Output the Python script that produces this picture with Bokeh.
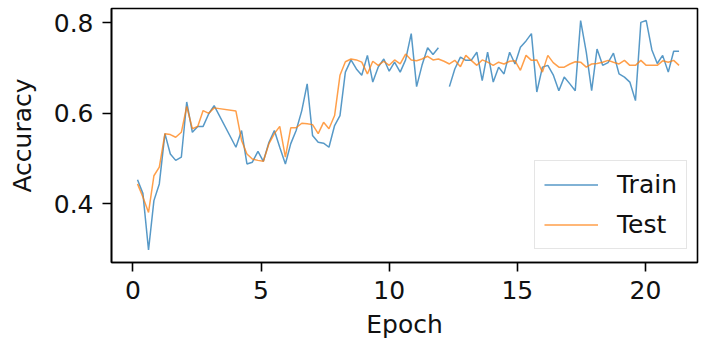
import numpy as np
from bokeh.plotting import figure
from bokeh.models import FixedTicker, Range1d, Legend, LegendItem, ColumnDataSource
from bokeh.embed import file_html
from bokeh.resources import INLINE

epoch = [0.18, 0.39, 0.61, 0.82, 1.03, 1.25, 1.46, 1.67, 1.89, 2.10, 2.32, 2.53, 2.74, 2.96, 3.17,
         4.02, 4.24, 4.45, 4.66, 4.88, 5.09, 5.31, 5.52, 5.73, 5.95,
         6.16, 6.37, 6.59, 6.80, 7.01, 7.23, 7.44, 7.65, 7.87, 8.08,
         8.29, 8.51, 8.72, 8.93, 9.15, 9.36, 9.57, 9.79, 10.00, 10.21,
         10.43, 10.64, 10.86, 11.07, 11.28, 11.50, 11.71, 11.92, 12.14, 12.35,
         12.56, 12.78, 12.99, 13.20, 13.42, 13.63, 13.84, 14.06, 14.27, 14.48,
         14.70, 14.91, 15.12, 15.34, 15.55, 15.76, 15.98, 16.19, 16.40, 16.62,
         16.83, 17.05, 17.26, 17.47, 17.69, 17.90, 18.11, 18.33, 18.54, 18.75,
         18.97, 19.18, 19.39, 19.61, 19.82, 20.03, 20.25, 20.46, 20.67, 20.89,
         21.10, 21.31]

train_acc = [0.453, 0.423, 0.298, 0.407, 0.444, 0.555, 0.510, 0.496, 0.503, 0.625, 0.558, 0.571, 0.571, 0.599, 0.617,
             0.525, 0.562, 0.488, 0.492, 0.516, 0.494, 0.536, 0.562, 0.525, 0.488,
             0.533, 0.562, 0.606, 0.665, 0.551, 0.536, 0.534, 0.525, 0.573, 0.595,
             0.691, 0.718, 0.698, 0.684, 0.728, 0.669, 0.702, 0.720, 0.693, 0.713,
             0.691, 0.718, 0.776, 0.659, 0.706, 0.745, 0.730, 0.745, np.nan, 0.659,
             0.698, 0.724, 0.717, 0.717, 0.735, 0.672, 0.735, 0.669, 0.702, 0.687,
             0.735, 0.709, 0.746, 0.760, 0.776, 0.647, 0.702, 0.706, 0.685, 0.650,
             0.680, 0.665, 0.650, 0.805, 0.735, 0.650, 0.742, 0.706, 0.712, 0.733,
             0.687, 0.680, 0.669, 0.628, 0.801, 0.805, 0.740, 0.710, 0.728, 0.691,
             0.737, 0.737]

test_acc = [0.444, 0.415, 0.381, 0.462, 0.481, 0.555, 0.553, 0.547, 0.558, 0.615, 0.566, 0.571, 0.606, 0.600, 0.612,
            0.605, 0.540, 0.510, 0.499, 0.496, 0.494, 0.533, 0.555, 0.571, 0.503,
            0.568, 0.568, 0.578, 0.577, 0.575, 0.555, 0.580, 0.566, 0.595, 0.684,
            0.714, 0.720, 0.718, 0.713, 0.687, 0.715, 0.706, 0.715, 0.706, 0.718,
            0.709, 0.731, 0.718, 0.716, 0.720, 0.726, 0.718, 0.720, 0.715, 0.709,
            0.717, 0.703, 0.728, 0.717, 0.706, 0.718, 0.713, 0.706, 0.713, 0.709,
            0.715, 0.716, 0.695, 0.728, 0.717, 0.718, 0.691, 0.728, 0.712, 0.702,
            0.702, 0.709, 0.714, 0.713, 0.702, 0.709, 0.710, 0.713, 0.717, 0.713,
            0.709, 0.717, 0.706, 0.706, 0.717, 0.706, 0.706, 0.706, 0.716, 0.713,
            0.717, 0.706]

x_ticks = [0, 5, 10, 15, 20]
y_ticks = [0.4, 0.6, 0.8]

FONT = "DejaVu Sans"
FS = "25px"

p = figure(width=700, height=343, output_backend="svg", toolbar_location=None,
           x_range=Range1d(-0.835, 22.03), y_range=Range1d(0.2703, 0.8316),
           min_border_left=111, min_border_right=3, min_border_top=8, min_border_bottom=81)

p.xgrid.visible = False
p.ygrid.visible = False
p.outline_line_color = "black"
p.outline_line_width = 1.6
p.outline_line_alpha = 1.0

src = ColumnDataSource(dict(x=np.array(epoch, dtype=float),
                            tr=np.array(train_acc, dtype=float),
                            te=np.array(test_acc, dtype=float)))

r_train = p.line("x", "tr", source=src, line_color="#1f77b4", line_width=1.5, line_alpha=0.75)
r_test = p.line("x", "te", source=src, line_color="#ff7f0e", line_width=1.5, line_alpha=0.75)

p.xaxis.ticker = FixedTicker(ticks=x_ticks)
p.yaxis.ticker = FixedTicker(ticks=y_ticks)
p.xaxis.axis_label = "Epoch"
p.yaxis.axis_label = "Accuracy"

for ax in (p.xaxis[0], p.yaxis[0]):
    ax.axis_line_color = "black"
    ax.axis_line_width = 1.6
    ax.major_tick_line_color = "black"
    ax.major_tick_line_width = 1.6
    ax.major_tick_in = 0
    ax.major_tick_out = 9
    ax.minor_tick_line_color = None
    ax.major_label_text_font = FONT
    ax.major_label_text_font_size = FS
    ax.major_label_text_color = "#111111"
    ax.axis_label_text_font = FONT
    ax.axis_label_text_font_size = FS
    ax.axis_label_text_font_style = "normal"
    ax.axis_label_text_color = "#111111"

p.xaxis.major_label_standoff = 9
p.xaxis.axis_label_standoff = 8
p.yaxis.major_label_standoff = 9
p.yaxis.axis_label_standoff = 14

legend = Legend(items=[LegendItem(label="Train", renderers=[r_train]),
                       LegendItem(label="Test", renderers=[r_test])],
                location=(423, 13))
legend.label_text_font = FONT
legend.label_text_font_size = FS
legend.label_text_color = "#111111"
legend.glyph_width = 54
legend.glyph_height = 29
legend.label_standoff = 19
legend.spacing = 11
legend.padding = 9
legend.margin = 0
legend.border_line_color = "#cccccc"
legend.border_line_width = 1.5
legend.background_fill_color = "white"
legend.background_fill_alpha = 0.8
p.add_layout(legend, "center")

open("out.html", "w").write(file_html(p, INLINE))
